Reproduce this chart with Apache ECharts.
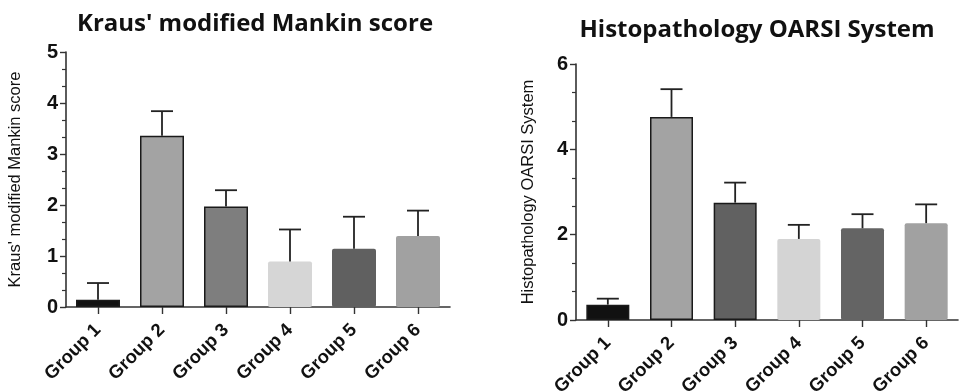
<!DOCTYPE html>
<html>
<head>
<meta charset="utf-8">
<script src="https://cdn.jsdelivr.net/npm/echarts@6/dist/echarts.min.js"></script>
<style>
html,body{margin:0;padding:0;background:#fff;}
#chart{width:961px;height:392px;}
</style>
</head>
<body>
<div id="chart"></div>
<script>
const categories = ['Group 1', 'Group 2', 'Group 3', 'Group 4', 'Group 5', 'Group 6'];
const mankinMean  = [0.14, 3.36, 1.97, 0.89, 1.14, 1.39];
const mankinUpper = [0.47, 3.84, 2.29, 1.52, 1.77, 1.89];
const oarsiMean   = [0.36, 4.76, 2.75, 1.90, 2.15, 2.27];
const oarsiUpper  = [0.50, 5.41, 3.22, 2.23, 2.48, 2.71];
const leftTicks = [0, 1, 2, 3, 4, 5];
const rightTicks = [0, 2, 4, 6];

const leftColors  = ['#111111', '#a3a3a3', '#7e7e7e', '#d6d6d6', '#606060', '#a1a1a1'];
const rightColors = ['#111111', '#a3a3a3', '#616161', '#d4d4d4', '#646464', '#a1a1a1'];
const bordered = [true, true, true, false, false, false];

const chart = echarts.init(document.getElementById('chart'));

function barData(vals, colors) {
  return vals.map((v, i) => ({
    value: v,
    itemStyle: {
      color: colors[i],
      borderColor: bordered[i] ? '#1a1a1a' : colors[i],
      borderWidth: bordered[i] ? 1.5 : 0,
      borderRadius: bordered[i] ? 0 : 2
    }
  }));
}

function errData(mean, upper) {
  return mean.map((m, i) => [i, m, upper[i]]);
}

function renderErr(params, api) {
  const x = api.value(0);
  const lo = api.coord([x, api.value(1)]);
  const hi = api.coord([x, api.value(2)]);
  const half = 11;
  const st = { stroke: '#222', lineWidth: 1.8 };
  return {
    type: 'group',
    children: [
      { type: 'line', shape: { x1: lo[0], y1: lo[1], x2: hi[0], y2: hi[1] }, style: st },
      { type: 'line', shape: { x1: hi[0] - half, y1: hi[1], x2: hi[0] + half, y2: hi[1] }, style: st }
    ]
  };
}

const axisLine = { show: true, lineStyle: { color: '#333', width: 1.6 } };
const tickLabel = { fontFamily: 'Liberation Sans, Arial', fontWeight: 'bold', fontSize: 20, color: '#111' };

function yAxis(gi, max, interval, name) {
  return {
    type: 'value', gridIndex: gi, min: 0, max: max, interval: interval,
    name: name, nameLocation: 'middle', nameRotate: 90,
    nameGap: gi === 0 ? 42 : 39,
    nameTextStyle: { fontFamily: 'Liberation Sans, Arial', fontSize: 16.5, color: '#111' },
    axisLine: axisLine,
    axisTick: { show: true, length: 6, lineStyle: { color: '#333', width: 1.4 } },
    minorTick: { show: true, splitNumber: 3, length: 4, lineStyle: { color: '#333', width: 1.2 } },
    splitLine: { show: false },
    axisLabel: Object.assign({ margin: 8 }, tickLabel)
  };
}

function xAxis(gi) {
  return {
    type: 'category', gridIndex: gi, data: categories,
    axisLine: axisLine,
    axisTick: { show: true, alignWithLabel: true, length: 7, lineStyle: { color: '#333', width: 1.4 } },
    axisLabel: Object.assign({ rotate: 45, margin: 20, interval: 0 }, tickLabel, { fontSize: 18.5 })
  };
}

chart.setOption({
  animation: false,
  backgroundColor: '#ffffff',
  title: [
    { text: "Kraus' modified Mankin score", left: 250, top: 7, textAlign: 'center',
      textStyle: { fontFamily: 'Open Sans', fontWeight: 'bold', fontSize: 24, color: '#111' } },
    { text: 'Histopathology OARSI System', left: 752, top: 13, textAlign: 'center',
      textStyle: { fontFamily: 'Open Sans', fontWeight: 'bold', fontSize: 24, color: '#111' } }
  ],
  grid: [
    { left: 66, top: 52, width: 384, height: 255, outerBoundsMode: 'none', containLabel: false },
    { left: 576, top: 64, width: 382, height: 256, outerBoundsMode: 'none', containLabel: false }
  ],
  xAxis: [xAxis(0), xAxis(1)],
  yAxis: [
    yAxis(0, 5, 1, "Kraus' modified Mankin score"),
    yAxis(1, 6, 2, 'Histopathology OARSI System')
  ],
  series: [
    { type: 'bar', xAxisIndex: 0, yAxisIndex: 0, barWidth: 44, data: barData(mankinMean, leftColors), z: 2 },
    { type: 'custom', xAxisIndex: 0, yAxisIndex: 0, renderItem: renderErr, data: errData(mankinMean, mankinUpper), z: 3 },
    { type: 'bar', xAxisIndex: 1, yAxisIndex: 1, barWidth: 43, data: barData(oarsiMean, rightColors), z: 2 },
    { type: 'custom', xAxisIndex: 1, yAxisIndex: 1, renderItem: renderErr, data: errData(oarsiMean, oarsiUpper), z: 3 }
  ]
});
</script>
</body>
</html>
